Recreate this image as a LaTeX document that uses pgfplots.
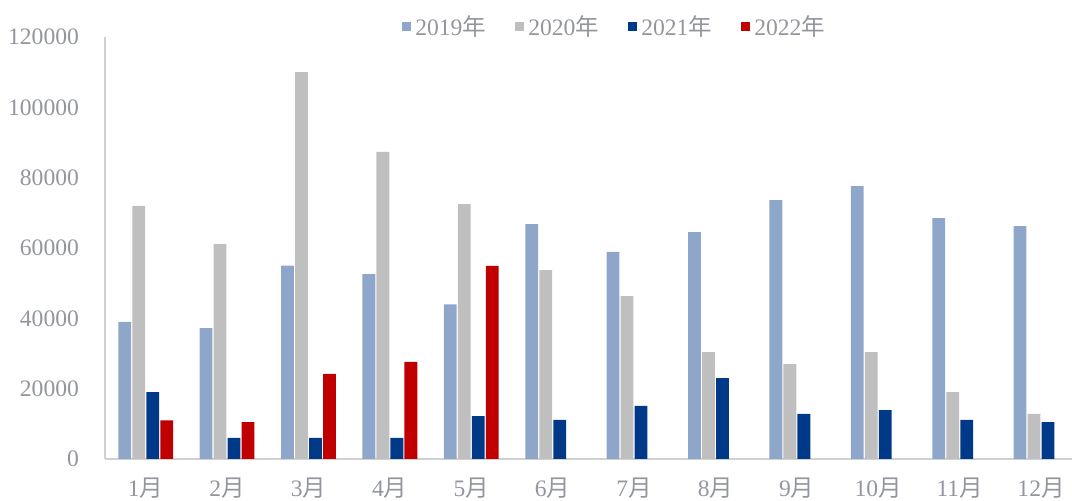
\documentclass[border=0pt]{standalone}
\usepackage{fontspec}
\setmainfont{Liberation Serif}
\newfontfamily\cjk{Noto Sans CJK SC}
\usepackage{pgfplots}
\pgfplotsset{compat=1.18}
\definecolor{c19}{RGB}{142,166,202}
\definecolor{c20}{RGB}{191,191,191}
\definecolor{c21}{RGB}{0,57,136}
\definecolor{c22}{RGB}{192,0,0}
\definecolor{txt}{RGB}{148,150,158}
\definecolor{axl}{RGB}{208,208,208}
\begin{document}
\begin{tikzpicture}
\useasboundingbox (-52.5pt,-21pt) rectangle (483.5pt,229.5pt);
\begin{axis}[
  at={(0,0)}, anchor=south west,
  scale only axis, width=483.5pt, height=211pt,
  ybar=0.6pt, bar width=6.4pt,
  xmin=-0.5, xmax=11.38,
  ymin=0, ymax=120000,
  ytick={0,20000,40000,60000,80000,100000,120000},
  xtick={0,...,11},
  xticklabels={1{\cjk 月},2{\cjk 月},3{\cjk 月},4{\cjk 月},5{\cjk 月},6{\cjk 月},7{\cjk 月},8{\cjk 月},9{\cjk 月},10{\cjk 月},11{\cjk 月},12{\cjk 月}},
  scaled y ticks=false,
  /pgf/number format/.cd, fixed, 1000 sep={}, assume math mode=true,
  /pgfplots/.cd,
  axis x line*=bottom, axis y line*=left,
  axis line style={axl, line width=0.8pt, -},
  major tick length=0pt,
  tick label style={txt, font=\fontsize{11.8}{13}\selectfont},
  yticklabel style={xshift=-9.5pt},
  xticklabel style={yshift=-6pt},
  legend style={at={(0.528,1.024)}, anchor=center, draw=none, fill=none,
    legend columns=4, font=\fontsize{11.8}{13}\selectfont, text=txt,
    /tikz/every even column/.append style={column sep=12.5pt},
    inner sep=0pt},
  legend image code/.code={\fill (0pt,-2.3pt) rectangle (4.6pt,2.3pt);},
  clip=false,
]
\addplot[fill=c19, draw=none] coordinates {(0,39000) (1,37200) (2,55000) (3,52600) (4,44000) (5,66800) (6,58900) (7,64500) (8,73600) (9,77600) (10,68500) (11,66200)};
\addplot[fill=c20, draw=none] coordinates {(0,72000) (1,61100) (2,110000) (3,87300) (4,72500) (5,53700) (6,46300) (7,30400) (8,27000) (9,30400) (10,19000) (11,12800)};
\addplot[fill=c21, draw=none] coordinates {(0,19000) (1,6000) (2,6000) (3,6000) (4,12200) (5,11100) (6,15100) (7,23000) (8,12800) (9,13900) (10,11100) (11,10500)};
\addplot[fill=c22, draw=none] coordinates {(0,11000) (1,10500) (2,24200) (3,27600) (4,54900)};
\legend{2019{\cjk 年},2020{\cjk 年},2021{\cjk 年},2022{\cjk 年}}
\end{axis}
\end{tikzpicture}
\end{document}
